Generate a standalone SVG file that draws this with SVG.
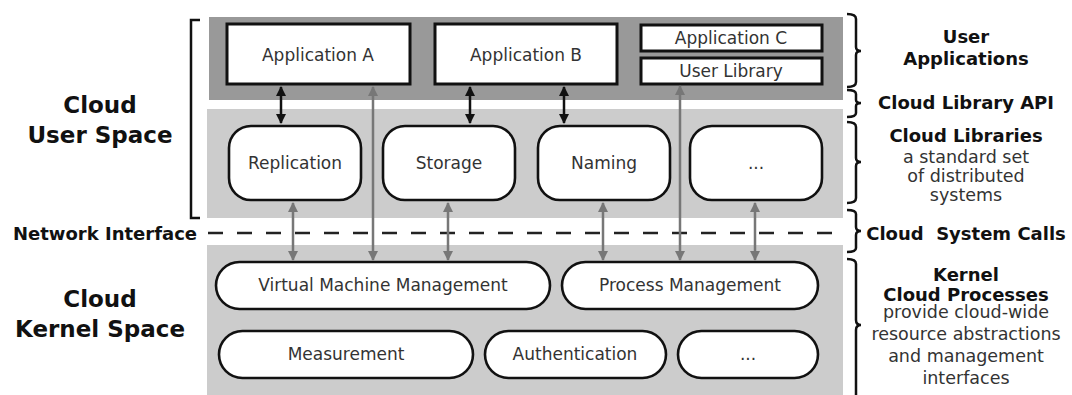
<svg xmlns="http://www.w3.org/2000/svg" width="1072" height="395" viewBox="0 0 1072 395">
<style>
.lbl{font-family:"DejaVu Sans",sans-serif;font-weight:bold;fill:#111;text-anchor:middle}
.big{font-size:23px}
.mid{font-size:18px}
.desc{font-family:"DejaVu Sans",sans-serif;font-size:17.5px;fill:#333;text-anchor:middle}
.nt{font-family:"DejaVu Sans",sans-serif;font-size:17px;fill:#333;text-anchor:middle}
.box{fill:#fff;stroke:#111;stroke-width:3}
.rbox{fill:#fff;stroke:#111;stroke-width:2.6}
.br{fill:none;stroke:#111;stroke-width:2.5}
.ba{stroke:#111;stroke-width:2.5;fill:none}
.ga{stroke:#777;stroke-width:2.5;fill:none}
</style>
<defs>
<marker id="hb" viewBox="0 0 10 10" refX="9" refY="5" markerWidth="4" markerHeight="4" orient="auto-start-reverse" markerUnits="strokeWidth"><path d="M0,0L10,5L0,10z" fill="#111"/></marker>
<marker id="hg" viewBox="0 0 10 10" refX="9" refY="5" markerWidth="4" markerHeight="4" orient="auto-start-reverse" markerUnits="strokeWidth"><path d="M0,0L10,5L0,10z" fill="#777"/></marker>
</defs>
<rect x="0" y="0" width="1072" height="395" fill="#fff"/>
<g id="bands">
<rect x="209" y="17" width="634" height="83" fill="#999"/>
<rect x="207" y="109" width="636" height="109" fill="#ccc"/>
<rect x="207" y="245" width="636" height="150" fill="#ccc"/>
</g>
<g id="brackets">
<path class="br" d="M200,20H191V218H200"/>
<path class="br" d="M847,14Q856,14 856,19V47Q856,51 861,51Q856,51 856,55V82Q856,87 847,87"/>
<path class="br" d="M847,90Q856,90 856,94V100Q856,103 861,103Q856,103 856,106V113Q856,117 847,117"/>
<path class="br" d="M847,122Q856,122 856,127V158Q856,162 861,162Q856,162 856,166V198Q856,203 847,203"/>
<path class="br" d="M847,210Q856,210 856,214V227Q856,231 861,231Q856,231 856,235V248Q856,252 847,252"/>
<path class="br" d="M847,259Q856,259 856,264V320Q856,325 861,325Q856,325 856,330V395"/>
</g>
<g id="left-labels">
<text class="lbl big" x="100" y="113">Cloud</text>
<text class="lbl big" x="100" y="143">User Space</text>
<text class="lbl mid" x="105" y="240">Network Interface</text>
<text class="lbl big" x="100" y="307">Cloud</text>
<text class="lbl big" x="100" y="337">Kernel Space</text>
</g>
<g id="right-labels">
<text class="lbl mid" x="966" y="43">User</text>
<text class="lbl mid" x="966" y="65">Applications</text>
<text class="lbl mid" x="966" y="109">Cloud Library API</text>
<text class="lbl mid" x="966" y="142">Cloud Libraries</text>
<text class="desc" x="966" y="163">a standard set</text>
<text class="desc" x="966" y="182">of distributed</text>
<text class="desc" x="966" y="201">systems</text>
<text class="lbl mid" x="966" y="240" xml:space="preserve">Cloud  System Calls</text>
<text class="lbl mid" x="966" y="281">Kernel</text>
<text class="lbl mid" x="966" y="301">Cloud Processes</text>
<text class="desc" x="966" y="318">provide cloud-wide</text>
<text class="desc" x="966" y="340">resource abstractions</text>
<text class="desc" x="966" y="362">and management</text>
<text class="desc" x="966" y="384">interfaces</text>
</g>
<g id="network-interface">
<line x1="208" y1="233" x2="846" y2="233" stroke="#222" stroke-width="2.6" stroke-dasharray="15 14"/>
</g>
<g id="app-a"><rect class="box" x="227" y="24" width="183" height="60"/><text class="nt" x="318" y="61">Application A</text></g>
<g id="app-b"><rect class="box" x="435" y="24" width="182" height="60"/><text class="nt" x="526" y="61">Application B</text></g>
<g id="app-c"><rect class="box" x="641" y="25" width="181" height="26"/><text class="nt" x="731" y="44">Application C</text></g>
<g id="user-library"><rect class="box" x="641" y="58" width="181" height="26"/><text class="nt" x="731" y="77">User Library</text></g>
<g id="replication"><rect class="rbox" x="229" y="126" width="132" height="74" rx="22"/><text class="nt" x="295" y="169">Replication</text></g>
<g id="storage"><rect class="rbox" x="383" y="126" width="132" height="74" rx="22"/><text class="nt" x="449" y="169">Storage</text></g>
<g id="naming"><rect class="rbox" x="538" y="126" width="132" height="74" rx="22"/><text class="nt" x="604" y="169">Naming</text></g>
<g id="lib-more"><rect class="rbox" x="690" y="126" width="132" height="74" rx="22"/><text class="nt" x="756" y="169">...</text></g>
<g id="vmm"><rect class="rbox" x="216" y="262" width="334" height="47" rx="23.5"/><text class="nt" x="383" y="291">Virtual Machine Management</text></g>
<g id="process-mgmt"><rect class="rbox" x="562" y="262" width="256" height="47" rx="23.5"/><text class="nt" x="690" y="291">Process Management</text></g>
<g id="measurement"><rect class="rbox" x="219" y="331" width="254" height="47" rx="23.5"/><text class="nt" x="346" y="360">Measurement</text></g>
<g id="authentication"><rect class="rbox" x="485" y="331" width="181" height="47" rx="23.5"/><text class="nt" x="575" y="360">Authentication</text></g>
<g id="kernel-more"><rect class="rbox" x="678" y="331" width="140" height="47" rx="23.5"/><text class="nt" x="748" y="360">...</text></g>
<g id="connectors">
<line class="ba" x1="281" y1="87" x2="281" y2="123" marker-start="url(#hb)" marker-end="url(#hb)"/>
<line class="ba" x1="470" y1="87" x2="470" y2="123" marker-start="url(#hb)" marker-end="url(#hb)"/>
<line class="ba" x1="564" y1="87" x2="564" y2="123" marker-start="url(#hb)" marker-end="url(#hb)"/>
<line class="ga" x1="373" y1="87" x2="373" y2="260" marker-start="url(#hg)" marker-end="url(#hg)"/>
<line class="ga" x1="680" y1="86" x2="680" y2="260" marker-start="url(#hg)" marker-end="url(#hg)"/>
<line class="ga" x1="293" y1="203" x2="293" y2="260" marker-start="url(#hg)" marker-end="url(#hg)"/>
<line class="ga" x1="448" y1="203" x2="448" y2="260" marker-start="url(#hg)" marker-end="url(#hg)"/>
<line class="ga" x1="603" y1="203" x2="603" y2="260" marker-start="url(#hg)" marker-end="url(#hg)"/>
<line class="ga" x1="755" y1="203" x2="755" y2="260" marker-start="url(#hg)" marker-end="url(#hg)"/>
</g>
</svg>
